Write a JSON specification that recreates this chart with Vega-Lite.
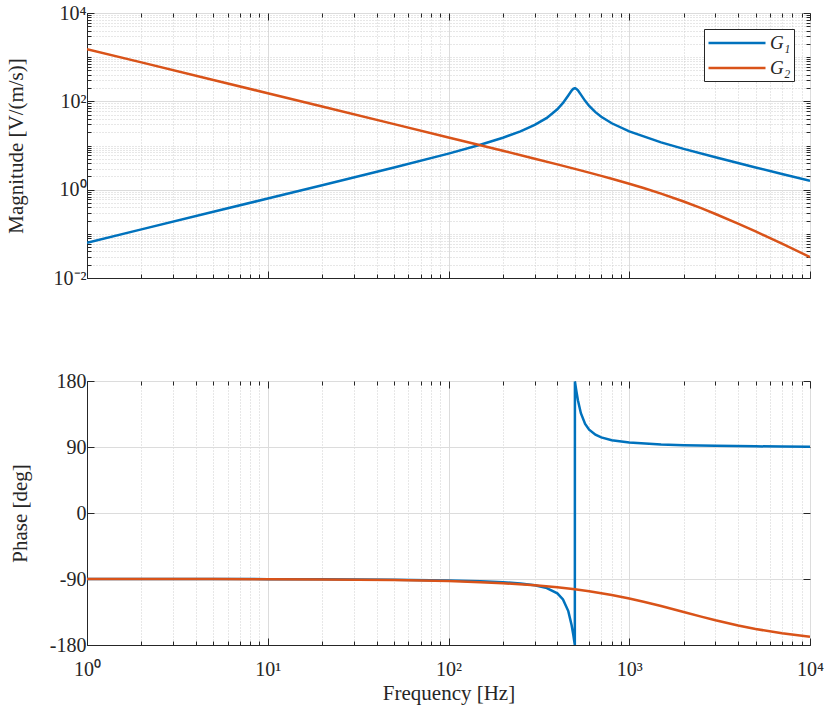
{
  "$schema": "https://vega.github.io/schema/vega-lite/v6.json",
  "background": "white",
  "padding": {"left": 4, "top": 2, "right": 20, "bottom": 5},
  "datasets": {
    "bode": [
      {"f": 1, "sys": "G₁", "mag": 0.063, "ph": -90.02},
      {"f": 2, "sys": "G₁", "mag": 0.126, "ph": -90.04},
      {"f": 5, "sys": "G₁", "mag": 0.315, "ph": -90.09},
      {"f": 10, "sys": "G₁", "mag": 0.63, "ph": -90.18},
      {"f": 20, "sys": "G₁", "mag": 1.262, "ph": -90.37},
      {"f": 50, "sys": "G₁", "mag": 3.181, "ph": -90.93},
      {"f": 100, "sys": "G₁", "mag": 6.559, "ph": -91.91},
      {"f": 150, "sys": "G₁", "mag": 10.37, "ph": -93.02},
      {"f": 200, "sys": "G₁", "mag": 14.96, "ph": -94.36},
      {"f": 250, "sys": "G₁", "mag": 20.88, "ph": -96.09},
      {"f": 300, "sys": "G₁", "mag": 29.2, "ph": -98.53},
      {"f": 350, "sys": "G₁", "mag": 42.23, "ph": -102.39},
      {"f": 400, "sys": "G₁", "mag": 65.95, "ph": -109.57},
      {"f": 430, "sys": "G₁", "mag": 91.98, "ph": -117.85},
      {"f": 460, "sys": "G₁", "mag": 136.2, "ph": -133.78},
      {"f": 480, "sys": "G₁", "mag": 175.3, "ph": -152.96},
      {"f": 490, "sys": "G₁", "mag": 190.9, "ph": -165.83},
      {"f": 499, "sys": "G₁", "mag": 196.8, "ph": -178.57},
      {"f": 500, "sys": "G₁", "mag": 196.9, "ph": -180},
      {"f": 500.5, "sys": "G₁", "mag": 196.9, "ph": 179.3},
      {"f": 501, "sys": "G₁", "mag": 196.8, "ph": 178.57},
      {"f": 505, "sys": "G₁", "mag": 195.4, "ph": 172.91},
      {"f": 510, "sys": "G₁", "mag": 191.1, "ph": 166.1},
      {"f": 520, "sys": "G₁", "mag": 176.8, "ph": 153.88},
      {"f": 540, "sys": "G₁", "mag": 141.8, "ph": 136.08},
      {"f": 570, "sys": "G₁", "mag": 102.4, "ph": 121.33},
      {"f": 600, "sys": "G₁", "mag": 78.73, "ph": 113.58},
      {"f": 650, "sys": "G₁", "mag": 56.82, "ph": 106.78},
      {"f": 700, "sys": "G₁", "mag": 44.74, "ph": 103.13},
      {"f": 800, "sys": "G₁", "mag": 31.88, "ph": 99.32},
      {"f": 1000, "sys": "G₁", "mag": 20.88, "ph": 96.09},
      {"f": 1500, "sys": "G₁", "mag": 11.79, "ph": 93.43},
      {"f": 2000, "sys": "G₁", "mag": 8.392, "ph": 92.44},
      {"f": 3000, "sys": "G₁", "mag": 5.398, "ph": 91.57},
      {"f": 5000, "sys": "G₁", "mag": 3.181, "ph": 90.93},
      {"f": 7000, "sys": "G₁", "mag": 2.261, "ph": 90.66},
      {"f": 10000, "sys": "G₁", "mag": 1.579, "ph": 90.46},
      {"f": 1, "sys": "G₂", "mag": 1523, "ph": -90.03},
      {"f": 2, "sys": "G₂", "mag": 761.5, "ph": -90.06},
      {"f": 5, "sys": "G₂", "mag": 304.6, "ph": -90.14},
      {"f": 10, "sys": "G₂", "mag": 152.3, "ph": -90.29},
      {"f": 20, "sys": "G₂", "mag": 76.15, "ph": -90.57},
      {"f": 50, "sys": "G₂", "mag": 30.45, "ph": -91.43},
      {"f": 100, "sys": "G₂", "mag": 15.21, "ph": -92.86},
      {"f": 150, "sys": "G₂", "mag": 10.13, "ph": -94.29},
      {"f": 200, "sys": "G₂", "mag": 7.577, "ph": -95.71},
      {"f": 300, "sys": "G₂", "mag": 5.021, "ph": -98.53},
      {"f": 400, "sys": "G₂", "mag": 3.734, "ph": -101.31},
      {"f": 500, "sys": "G₂", "mag": 2.955, "ph": -104.04},
      {"f": 600, "sys": "G₂", "mag": 2.431, "ph": -106.7},
      {"f": 700, "sys": "G₂", "mag": 2.054, "ph": -109.29},
      {"f": 800, "sys": "G₂", "mag": 1.768, "ph": -111.8},
      {"f": 1000, "sys": "G₂", "mag": 1.362, "ph": -116.57},
      {"f": 1200, "sys": "G₂", "mag": 1.088, "ph": -120.96},
      {"f": 1500, "sys": "G₂", "mag": 0.8123, "ph": -126.87},
      {"f": 2000, "sys": "G₂", "mag": 0.5385, "ph": -135},
      {"f": 2500, "sys": "G₂", "mag": 0.3806, "ph": -141.34},
      {"f": 3000, "sys": "G₂", "mag": 0.2816, "ph": -146.31},
      {"f": 4000, "sys": "G₂", "mag": 0.1703, "ph": -153.43},
      {"f": 5000, "sys": "G₂", "mag": 0.1131, "ph": -158.2},
      {"f": 7000, "sys": "G₂", "mag": 0.05978, "ph": -164.05},
      {"f": 10000, "sys": "G₂", "mag": 0.02987, "ph": -168.69}
    ]
  },
  "spacing": 81,
  "resolve": {"legend": {"color": "independent"}},
  "vconcat": [
    {
      "width": 723,
      "height": 265,
      "data": {"name": "bode"},
      "resolve": {"axis": {"x": "independent", "y": "independent"}},
      "layer": [
        {
          "mark": {"type": "line", "strokeWidth": 2.5, "clip": true},
          "encoding": {
            "x": {
              "field": "f", "type": "quantitative",
              "scale": {"type": "log", "domain": [1, 10000], "nice": false},
              "axis": {
                "orient": "bottom", "title": null, "labels": false,
                "values": [1,2,3,4,5,6,7,8,9,10,20,30,40,50,60,70,80,90,100,200,300,400,500,600,700,800,900,1000,2000,3000,4000,5000,6000,7000,8000,9000,10000],
                "grid": true,
                "gridColor": {"condition": {"test": "abs(log(datum.value)/LN10 - round(log(datum.value)/LN10)) < 0.001", "value": "#dcdcdc"}, "value": "#cfcfcf"},
                "gridDash": {"condition": {"test": "abs(log(datum.value)/LN10 - round(log(datum.value)/LN10)) < 0.001", "value": []}, "value": [1, 2]},
                "tickSize": {"condition": {"test": "abs(log(datum.value)/LN10 - round(log(datum.value)/LN10)) < 0.001", "value": -7}, "value": -4}
              }
            },
            "y": {
              "field": "mag", "type": "quantitative",
              "scale": {"type": "log", "domain": [0.01, 10000], "nice": false},
              "axis": {
                "orient": "left", "title": "Magnitude [V/(m/s)]",
                "values": [0.01,0.02,0.03,0.04,0.05,0.06,0.07,0.08,0.09,0.1,0.2,0.3,0.4,0.5,0.6,0.7,0.8,0.9,1,2,3,4,5,6,7,8,9,10,20,30,40,50,60,70,80,90,100,200,300,400,500,600,700,800,900,1000,2000,3000,4000,5000,6000,7000,8000,9000,10000],
                "labelExpr": "datum.value == 0.01 ? '10⁻²' : datum.value == 1 ? '10⁰' : datum.value == 100 ? '10²' : datum.value == 10000 ? '10⁴' : ''",
                "labelOverlap": false,
                "labelPadding": 8,
                "titlePadding": 27,
                "grid": true,
                "gridColor": {"condition": {"test": "abs(log(datum.value)/LN10 - round(log(datum.value)/LN10)) < 0.001 && round(log(datum.value)/LN10) % 2 == 0", "value": "#dcdcdc"}, "value": "#cfcfcf"},
                "gridDash": {"condition": {"test": "abs(log(datum.value)/LN10 - round(log(datum.value)/LN10)) < 0.001 && round(log(datum.value)/LN10) % 2 == 0", "value": []}, "value": [1, 2]},
                "tickSize": {"condition": {"test": "abs(log(datum.value)/LN10 - round(log(datum.value)/LN10)) < 0.001 && round(log(datum.value)/LN10) % 2 == 0", "value": -7}, "value": -4}
              }
            },
            "color": {
              "field": "sys", "type": "nominal",
              "scale": {"domain": ["G₁", "G₂"], "range": ["#0072BD", "#D95319"]},
              "legend": {
                "title": null, "orient": "top-right", "offset": 16,
                "symbolType": "M-1,0H5", "symbolSize": 361, "symbolStrokeWidth": 2.5,
                "labelFontSize": 19, "labelFontStyle": "italic", "labelOffset": 41,
                "strokeColor": "#262626", "fillColor": "white", "padding": 3, "rowPadding": 4
              }
            }
          }
        },
        {
          "mark": {"type": "point", "opacity": 0},
          "encoding": {
            "x": {
              "field": "f", "type": "quantitative",
              "scale": {"type": "log", "domain": [1, 10000], "nice": false},
              "axis": {
                "orient": "top", "title": null, "labels": false, "grid": false, "domain": false,
                "values": [1,2,3,4,5,6,7,8,9,10,20,30,40,50,60,70,80,90,100,200,300,400,500,600,700,800,900,1000,2000,3000,4000,5000,6000,7000,8000,9000,10000],
                "tickSize": {"condition": {"test": "abs(log(datum.value)/LN10 - round(log(datum.value)/LN10)) < 0.001", "value": -7}, "value": -4}
              }
            },
            "y": {
              "field": "mag", "type": "quantitative",
              "scale": {"type": "log", "domain": [0.01, 10000], "nice": false},
              "axis": {
                "orient": "right", "title": null, "labels": false, "grid": false, "domain": false,
                "values": [0.01,0.02,0.03,0.04,0.05,0.06,0.07,0.08,0.09,0.1,0.2,0.3,0.4,0.5,0.6,0.7,0.8,0.9,1,2,3,4,5,6,7,8,9,10,20,30,40,50,60,70,80,90,100,200,300,400,500,600,700,800,900,1000,2000,3000,4000,5000,6000,7000,8000,9000,10000],
                "tickSize": {"condition": {"test": "abs(log(datum.value)/LN10 - round(log(datum.value)/LN10)) < 0.001 && round(log(datum.value)/LN10) % 2 == 0", "value": -7}, "value": -4}
              }
            }
          }
        }
      ]
    },
    {
      "width": 723,
      "height": 264,
      "data": {"name": "bode"},
      "resolve": {"axis": {"x": "independent", "y": "independent"}},
      "layer": [
        {
          "mark": {"type": "line", "strokeWidth": 2.5, "clip": true},
          "encoding": {
            "x": {
              "field": "f", "type": "quantitative",
              "scale": {"type": "log", "domain": [1, 10000], "nice": false},
              "axis": {
                "orient": "bottom", "title": "Frequency [Hz]",
                "values": [1,2,3,4,5,6,7,8,9,10,20,30,40,50,60,70,80,90,100,200,300,400,500,600,700,800,900,1000,2000,3000,4000,5000,6000,7000,8000,9000,10000],
                "labelExpr": "datum.value == 1 ? '10⁰' : datum.value == 10 ? '10¹' : datum.value == 100 ? '10²' : datum.value == 1000 ? '10³' : datum.value == 10000 ? '10⁴' : ''",
                "labelOverlap": false, "labelFlush": false,
                "labelPadding": 21, "titlePadding": 0,
                "grid": true,
                "gridColor": {"condition": {"test": "abs(log(datum.value)/LN10 - round(log(datum.value)/LN10)) < 0.001", "value": "#dcdcdc"}, "value": "#cfcfcf"},
                "gridDash": {"condition": {"test": "abs(log(datum.value)/LN10 - round(log(datum.value)/LN10)) < 0.001", "value": []}, "value": [1, 2]},
                "tickSize": {"condition": {"test": "abs(log(datum.value)/LN10 - round(log(datum.value)/LN10)) < 0.001", "value": -7}, "value": -4}
              }
            },
            "y": {
              "field": "ph", "type": "quantitative",
              "scale": {"domain": [-180, 180], "nice": false},
              "axis": {
                "orient": "left", "title": "Phase [deg]",
                "values": [-180, -90, 0, 90, 180],
                "labelExpr": "'' + datum.value",
                "labelPadding": 8, "titlePadding": 19,
                "grid": true, "gridColor": "#dcdcdc", "tickSize": -7
              }
            },
            "color": {
              "field": "sys", "type": "nominal",
              "scale": {"domain": ["G₁", "G₂"], "range": ["#0072BD", "#D95319"]},
              "legend": null
            }
          }
        },
        {
          "mark": {"type": "point", "opacity": 0},
          "encoding": {
            "x": {
              "field": "f", "type": "quantitative",
              "scale": {"type": "log", "domain": [1, 10000], "nice": false},
              "axis": {
                "orient": "top", "title": null, "labels": false, "grid": false, "domain": false,
                "values": [1,2,3,4,5,6,7,8,9,10,20,30,40,50,60,70,80,90,100,200,300,400,500,600,700,800,900,1000,2000,3000,4000,5000,6000,7000,8000,9000,10000],
                "tickSize": {"condition": {"test": "abs(log(datum.value)/LN10 - round(log(datum.value)/LN10)) < 0.001", "value": -7}, "value": -4}
              }
            },
            "y": {
              "field": "ph", "type": "quantitative",
              "scale": {"domain": [-180, 180], "nice": false},
              "axis": {
                "orient": "right", "title": null, "labels": false, "grid": false, "domain": false,
                "values": [-180, -90, 0, 90, 180], "tickSize": -7
              }
            }
          }
        }
      ]
    }
  ],
  "config": {
    "font": "Liberation Serif",
    "view": {"stroke": "#262626", "strokeWidth": 1},
    "axis": {
      "labelFont": "Liberation Serif", "labelFontSize": 20, "labelColor": "#262626",
      "titleFont": "Liberation Serif", "titleFontSize": 21, "titleFontWeight": "normal", "titleColor": "#262626",
      "domainColor": "#262626", "tickColor": "#262626"
    },
    "legend": {"labelFont": "Liberation Serif", "labelColor": "#262626"}
  }
}
